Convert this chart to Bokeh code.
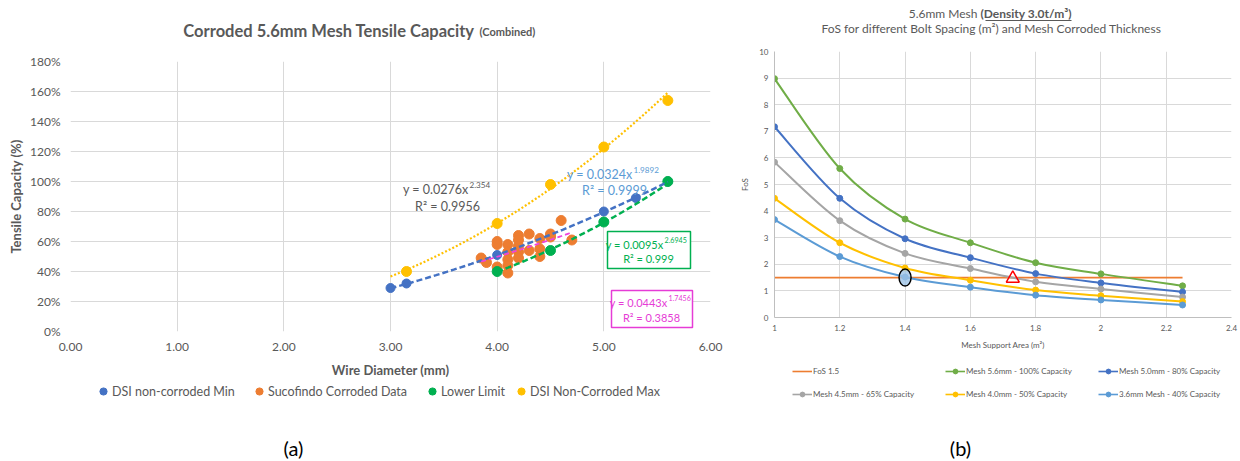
import numpy as np
from bokeh.plotting import figure
from bokeh.layouts import row, column
from bokeh.models import (Label, Legend, LegendItem, Range1d, FixedTicker,
                          NumeralTickFormatter, BoxAnnotation)
from bokeh.embed import file_html
from bokeh.resources import INLINE

# ---------------- (a) Corroded 5.6mm Mesh Tensile Capacity ----------------
dsi_min_d = [3.0, 3.15, 4.0, 5.0, 5.3, 5.6]
dsi_min_cap = [0.29, 0.32, 0.51, 0.80, 0.89, 1.00]

suco_d = [3.85, 3.9, 4.0, 4.0, 4.0, 4.1, 4.1, 4.1, 4.1, 4.1, 4.2, 4.2, 4.2, 4.2,
          4.2, 4.3, 4.3, 4.4, 4.4, 4.4, 4.5, 4.5, 4.6, 4.7]
suco_cap = [0.49, 0.46, 0.60, 0.58, 0.43, 0.58, 0.53, 0.48, 0.44, 0.39, 0.64, 0.61,
            0.57, 0.53, 0.49, 0.65, 0.54, 0.62, 0.55, 0.50, 0.65, 0.63, 0.74, 0.61]

lower_d = [4.0, 4.5, 5.0, 5.6]
lower_cap = [0.40, 0.54, 0.73, 1.00]

dsi_max_d = [3.15, 4.0, 4.5, 5.0, 5.6]
dsi_max_cap = [0.40, 0.72, 0.98, 1.23, 1.54]

# power trendlines y = a * x^b, as printed on the chart
trend_a = [0.0276, 0.0324, 0.0095, 0.0443]
trend_b = [2.354, 1.9892, 2.6945, 1.7456]
trend_r2 = ["0.9956", "0.9999", "0.999", "0.3858"]
trend_from = [3.0, 3.0, 4.0, 3.85]
trend_to = [5.6, 5.6, 5.6, 4.7]

x_ticks_a = [0, 1, 2, 3, 4, 5, 6]
y_ticks_a = [0, 0.2, 0.4, 0.6, 0.8, 1.0, 1.2, 1.4, 1.6, 1.8]

# ---------------- (b) FoS vs mesh support area ----------------
area = [1.0, 1.2, 1.4, 1.6, 1.8, 2.0, 2.25]
fos_56 = [8.98, 5.60, 3.70, 2.81, 2.06, 1.64, 1.19]
fos_50 = [7.17, 4.48, 2.96, 2.25, 1.65, 1.30, 0.96]
fos_45 = [5.84, 3.64, 2.41, 1.84, 1.34, 1.07, 0.77]
fos_40 = [4.48, 2.81, 1.86, 1.40, 1.03, 0.82, 0.60]
fos_36 = [3.68, 2.29, 1.52, 1.14, 0.84, 0.66, 0.47]
fos_limit_x = [1.0, 2.25]
fos_limit = [1.5, 1.5]
circle_mark = ([1.4], [1.5])
triangle_mark = ([1.73], [1.47])

x_ticks_b = [1.0, 1.2, 1.4, 1.6, 1.8, 2.0, 2.2, 2.4]
y_ticks_b = list(range(0, 11))

GREY = "#595959"
GRID = "#D9D9D9"
FONT = "Lato"


def label(fig, fl, fb, x, y, text, size, color=GREY, bold=False, align="left",
          baseline="middle"):
    """x, y are page pixels; fl/fb are the page left/bottom of fig's frame."""
    fig.add_layout(Label(x=x - fl, y=fb - y, x_units="screen", y_units="screen",
                         text=text, text_font=FONT, text_font_size=f"{size}px",
                         text_color=color,
                         text_font_style="bold" if bold else "normal",
                         text_align=align, text_baseline=baseline))


def box(fig, fl, fb, x0, x1, y0, y1, color, fill=None, lw=1.5):
    fig.add_layout(BoxAnnotation(left=x0 - fl, right=x1 - fl, top=fb - y0, bottom=fb - y1,
                                 left_units="screen", right_units="screen",
                                 top_units="screen", bottom_units="screen",
                                 fill_color=fill if fill else "white",
                                 fill_alpha=1 if fill else 0,
                                 line_color=color if color else "white",
                                 line_width=lw, line_alpha=1 if color else 0))


def text_fig(w, h):
    # strip for texts; its ranges lie away from all data so legend keys stay hidden
    f = figure(width=w, height=h, x_range=Range1d(-2, -1), y_range=Range1d(-2, -1),
               output_backend="svg", toolbar_location=None,
               x_axis_type=None, y_axis_type=None,
               min_border_left=0, min_border_right=0, min_border_top=0,
               min_border_bottom=0)
    f.outline_line_color = None
    return f


def style_axes(fig, size, label_size, bold_label):
    for ax in (fig.xaxis[0], fig.yaxis[0]):
        ax.major_label_text_font = FONT
        ax.major_label_text_font_size = f"{size}px"
        ax.major_label_text_color = GREY
        ax.axis_label_text_font = FONT
        ax.axis_label_text_font_size = f"{label_size}px"
        ax.axis_label_text_color = GREY
        ax.axis_label_text_font_style = "bold" if bold_label else "normal"
        ax.major_tick_line_color = None
        ax.minor_tick_line_color = None
        ax.major_tick_out = 0
        ax.major_tick_in = 0
    fig.xgrid.grid_line_color = GRID
    fig.ygrid.grid_line_color = GRID
    fig.outline_line_color = None


def single_legend(fig, name, rends, x, y_bottom, gw, gh, standoff, size):
    fig.add_layout(Legend(items=[LegendItem(label=name, renderers=rends)],
                          location=(x, y_bottom), orientation="horizontal",
                          padding=0, margin=0, spacing=0, border_line_alpha=0,
                          background_fill_alpha=0, glyph_width=gw, glyph_height=gh,
                          label_height=gh, label_standoff=standoff,
                          label_text_font=FONT, label_text_font_size=f"{size}px",
                          label_text_color=GREY))


# =================== chart (a): column x 0..733 ===================
LFL, LFB = 70, 331          # frame: x 70..710, y 61..331
ta = text_fig(733, 40)      # y 0..40
label(ta, LFL, 40, 474, 30, "Corroded 5.6mm Mesh Tensile Capacity", 16.5, bold=True, align="right")
label(ta, LFL, 40, 479, 31, "(Combined)", 11, bold=True)

p1 = figure(width=733, height=345, x_range=Range1d(0, 6), y_range=Range1d(0, 1.8),
            output_backend="svg", toolbar_location=None,
            min_border_left=70, min_border_right=23, min_border_top=21,
            min_border_bottom=54)            # y 40..385
p1.xaxis.ticker = FixedTicker(ticks=x_ticks_a)
p1.xaxis.formatter = NumeralTickFormatter(format="0.00")
p1.yaxis.ticker = FixedTicker(ticks=y_ticks_a)
p1.yaxis.formatter = NumeralTickFormatter(format="0%")
p1.xaxis.axis_label = "Wire Diameter (mm)"
p1.yaxis.axis_label = "Tensile Capacity (%)"
style_axes(p1, 12, 13, True)
p1.xaxis.axis_line_color = None
p1.yaxis.axis_line_color = None
p1.xaxis.major_label_standoff = 11
p1.yaxis.major_label_standoff = 10
p1.xaxis.axis_label_standoff = 8
p1.yaxis.axis_label_standoff = 3

series_a = [("DSI non-corroded Min", dsi_min_d, dsi_min_cap, "#4472C4", 9, 103),
            ("Sucofindo Corroded Data", suco_d, suco_cap, "#ED7D31", 10, 259),
            ("Lower Limit", lower_d, lower_cap, "#00B050", 10, 432),
            ("DSI Non-Corroded Max", dsi_max_d, dsi_max_cap, "#FFC000", 10, 521)]
for name, xs, ys, c, s, _ in series_a:
    p1.scatter(xs, ys, size=s, color=c)

trend_styles = [("#FFC000", "2 2", 2.2), ("#4472C4", "6 3", 2.5),
                ("#00B050", "6 3", 2.5), ("#EE44DD", "5 3", 1.8)]
for a, b, x0, x1, (c, dash, w) in zip(trend_a, trend_b, trend_from, trend_to, trend_styles):
    xs = np.linspace(x0, x1, 80)
    p1.line(xs, a * xs ** b, line_color=c, line_dash=dash, line_width=w)

eq_pos = [  # (right end of "y = ax", y line1, R2 centre x, y line2, size, colour)
    (468, 189, 447, 206, 12.5, GREY),
    (632, 174, 614, 190, 12.5, "#5B9BD5"),
    (663, 244, 648, 258, 11, "#00B050"),
    (667, 302, 651, 317, 11, "#E63CD6"),
]
box(p1, LFL, LFB, 607, 690, 231, 268, "#00B050", fill="white")
box(p1, LFL, LFB, 611, 692, 290, 327, "#E63CD6", fill="white")
for a, b, r2, (xr, y1, xc, y2, s, c) in zip(trend_a, trend_b, trend_r2, eq_pos):
    label(p1, LFL, LFB, xr, y1, f"y = {a}x", s, color=c, align="right")
    label(p1, LFL, LFB, xr + 1, y1 - 5, f"{b}", s * 0.65, color=c)
    label(p1, LFL, LFB, xc, y2, f"R\u00b2 = {r2}", s, color=c, align="center")

ba = text_fig(733, 74)      # y 385..459
for name, xs, ys, c, s, xc in series_a:
    key = ba.scatter(xs, ys, size=s, color=c)
    single_legend(ba, name, [key], xc - 9 - LFL, 459 - 400, 18, 18, -3, 12.5)
label(ba, LFL, 459, 293, 447, "(a)", 20, color="#000000", align="center")

# =================== chart (b): column x 733..1238 ===================
RFL, RFB = 774, 319          # frame: x 774..1231, y 51..319
tb = text_fig(505, 40)
label(tb, RFL, 40, 977, 13, "5.6mm Mesh", 12, align="right")
label(tb, RFL, 40, 980, 13, "(Density 3.0t/m\u00b3)", 12, bold=True)
box(tb, RFL, 40, 985, 1071, 19.5, 20.5, None, fill=GREY, lw=0)
label(tb, RFL, 40, 991, 27.5, "FoS for different Bolt Spacing (m\u00b2) and Mesh Corroded Thickness",
      12, align="center")

p2 = figure(width=505, height=312, x_range=Range1d(1, 2.4), y_range=Range1d(0, 10),
            output_backend="svg", toolbar_location=None,
            min_border_left=41, min_border_right=7, min_border_top=11,
            min_border_bottom=33)            # y 40..352
p2.xaxis.ticker = FixedTicker(ticks=x_ticks_b)
p2.xaxis.formatter = NumeralTickFormatter(format="0.[0]")
p2.yaxis.ticker = FixedTicker(ticks=y_ticks_b)
p2.xaxis.axis_label = "Mesh Support Area (m\u00b2)"
p2.yaxis.axis_label = "FoS"
style_axes(p2, 8, 8, False)
p2.xaxis.axis_line_color = "#BFBFBF"
p2.yaxis.axis_line_color = "#BFBFBF"
p2.xaxis.major_label_standoff = 7
p2.yaxis.major_label_standoff = 6
p2.xaxis.axis_label_standoff = 6
p2.yaxis.axis_label_standoff = 6

p2.line(fos_limit_x, fos_limit, line_color="#ED7D31", line_width=1.6)
series_b = [("Mesh 5.6mm - 100% Capacity", fos_56, "#70AD47"),
            ("Mesh 5.0mm - 80% Capacity", fos_50, "#4472C4"),
            ("Mesh 4.5mm - 65% Capacity", fos_45, "#A5A5A5"),
            ("Mesh 4.0mm - 50% Capacity", fos_40, "#FFC000"),
            ("3.6mm Mesh - 40% Capacity", fos_36, "#5B9BD5")]


def smooth(xs, ys):
    """Bezier control points for an Excel-like smoothed line through the points."""
    n = len(xs)
    seg = {k: [] for k in ("x0", "y0", "x1", "y1", "cx0", "cy0", "cx1", "cy1")}
    for i in range(n - 1):
        im, ip = max(i - 1, 0), min(i + 2, n - 1)
        seg["x0"].append(xs[i]); seg["y0"].append(ys[i])
        seg["x1"].append(xs[i + 1]); seg["y1"].append(ys[i + 1])
        seg["cx0"].append(xs[i] + (xs[i + 1] - xs[im]) / 6)
        seg["cy0"].append(ys[i] + (ys[i + 1] - ys[im]) / 6)
        seg["cx1"].append(xs[i + 1] - (xs[ip] - xs[i]) / 6)
        seg["cy1"].append(ys[i + 1] - (ys[ip] - ys[i]) / 6)
    return seg


for name, ys, c in series_b:
    p2.bezier(**smooth(area, ys), line_color=c, line_width=2)
    p2.scatter(area, ys, size=6, color=c)

p2.ellipse(x=circle_mark[0], y=circle_mark[1], width=12, height=17,
           width_units="screen", height_units="screen",
           fill_color="#9DC3E6", fill_alpha=0.8, line_color="#000000", line_width=1.5)
p2.scatter(x=triangle_mark[0], y=triangle_mark[1], marker="triangle", size=13,
           fill_alpha=0, line_color="#FF0000", line_width=1.5)

bb = text_fig(505, 107)      # y 352..459
leg_b = [("FoS 1.5", fos_limit_x, fos_limit, "#ED7D31", False, 792, 371)]
pos_b = [(945, 371), (1098, 371), (792, 394), (945, 394), (1098, 394)]
for (name, ys, c), (x0, yc) in zip(series_b, pos_b):
    leg_b.append((name, area, ys, c, True, x0, yc))
for name, xs, ys, c, has_marker, x0, yc in leg_b:
    keys = [bb.line(xs, ys, line_color=c, line_width=1.6)]
    if has_marker:
        keys.append(bb.scatter(xs, ys, size=5, color=c))
    single_legend(bb, name, keys, x0 - RFL, 459 - (yc + 6), 20, 12, 1, 8)
label(bb, RFL, 459, 960, 447, "(b)", 20, color="#000000", align="center")

layout = row(column(ta, p1, ba), column(tb, p2, bb))
open("out.html", "w").write(file_html(layout, INLINE))
